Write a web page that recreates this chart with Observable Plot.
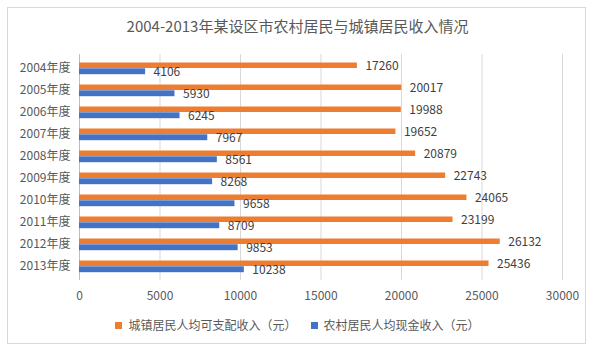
<!DOCTYPE html>
<html>
<head>
<meta charset="utf-8">
<script src="https://cdn.jsdelivr.net/npm/d3@7"></script>
<script src="https://cdn.jsdelivr.net/npm/@observablehq/plot@0.6"></script>
<style>
  body { margin: 0; background: #fff; font-family: "Noto Sans CJK SC", "Noto Sans", sans-serif; }
  #wrap { position: relative; width: 595px; height: 352px; }
  #box { position: absolute; left: 7px; top: 7px; width: 579px; height: 337px; border: 1px solid #d9d9d9; box-sizing: border-box; }
  #title { position: absolute; left: 0; top: 15px; width: 595px; text-align: center; font-size: 15px; line-height: 22px; color: #595959; }
  #chart { position: absolute; left: 0; top: 0; }
  #legend { position: absolute; left: 0; top: 317px; width: 595px; display: flex; justify-content: center; font-size: 12px; line-height: 16px; color: #595959; }
  .item { display: flex; align-items: center; margin: 0 7px; }
  .sw { width: 7px; height: 7px; margin-right: 6px; }
</style>
</head>
<body>
<div id="wrap">
  <div id="box"></div>
  <div id="title">2004-2013年某设区市农村居民与城镇居民收入情况</div>
  <div id="chart"></div>
  <div id="legend"></div>
</div>
<script>
const years = ["2004年度","2005年度","2006年度","2007年度","2008年度","2009年度","2010年度","2011年度","2012年度","2013年度"];
const urban = [17260, 20017, 19988, 19652, 20879, 22743, 24065, 23199, 26132, 25436];
const rural = [4106, 5930, 6245, 7967, 8561, 8268, 9658, 8709, 9853, 10238];
const seriesNames = ["城镇居民人均可支配收入（元）", "农村居民人均现金收入（元）"];
const colors = ["#ED7D31", "#4472C4"];
const xTicks = [0, 5000, 10000, 15000, 20000, 25000, 30000];

const urbanData = years.map((y, i) => ({year: y, value: urban[i]}));
const ruralData = years.map((y, i) => ({year: y, value: rural[i]}));

const font = "Noto Sans CJK SC, Noto Sans, sans-serif";
const plot = Plot.plot({
  width: 595,
  height: 310,
  marginLeft: 79,
  marginRight: 33,
  marginTop: 54,
  marginBottom: 30,
  style: {fontFamily: font, fontSize: "12px", color: "#595959", background: "transparent"},
  x: {domain: [0, 30000], ticks: xTicks},
  y: {domain: years, padding: 0},
  marks: [
    Plot.gridX(xTicks, {stroke: "#d9d9d9", strokeOpacity: 1}),
    Plot.ruleX([0], {stroke: "#bfbfbf"}),
    Plot.barX(urbanData, {x: "value", y: "year", fill: colors[0], insetTop: 5.5, insetBottom: 11}),
    Plot.barX(ruralData, {x: "value", y: "year", fill: colors[1], insetTop: 11.3, insetBottom: 4.8}),
    Plot.text(urbanData, {x: "value", y: "year", text: d => String(d.value), textAnchor: "start", dx: 8, dy: -2.5, fill: "#404040", fontSize: 12}),
    Plot.text(ruralData, {x: "value", y: "year", text: d => String(d.value), textAnchor: "start", dx: 8, dy: 3.5, fill: "#404040", fontSize: 12}),
    Plot.axisX(xTicks, {tickSize: 0, tickPadding: 11, label: null, fill: "#595959", fontSize: 12, tickFormat: d => String(d)}),
    Plot.axisY({tickSize: 0, tickPadding: 9, label: null, fill: "#595959", fontSize: 12})
  ]
});
document.getElementById("chart").appendChild(plot);

const legend = document.getElementById("legend");
seriesNames.forEach((n, i) => {
  const it = document.createElement("div");
  it.className = "item";
  const sw = document.createElement("span");
  sw.className = "sw";
  sw.style.background = colors[i];
  const t = document.createElement("span");
  t.textContent = n;
  it.appendChild(sw); it.appendChild(t);
  legend.appendChild(it);
});
</script>
</body>
</html>
